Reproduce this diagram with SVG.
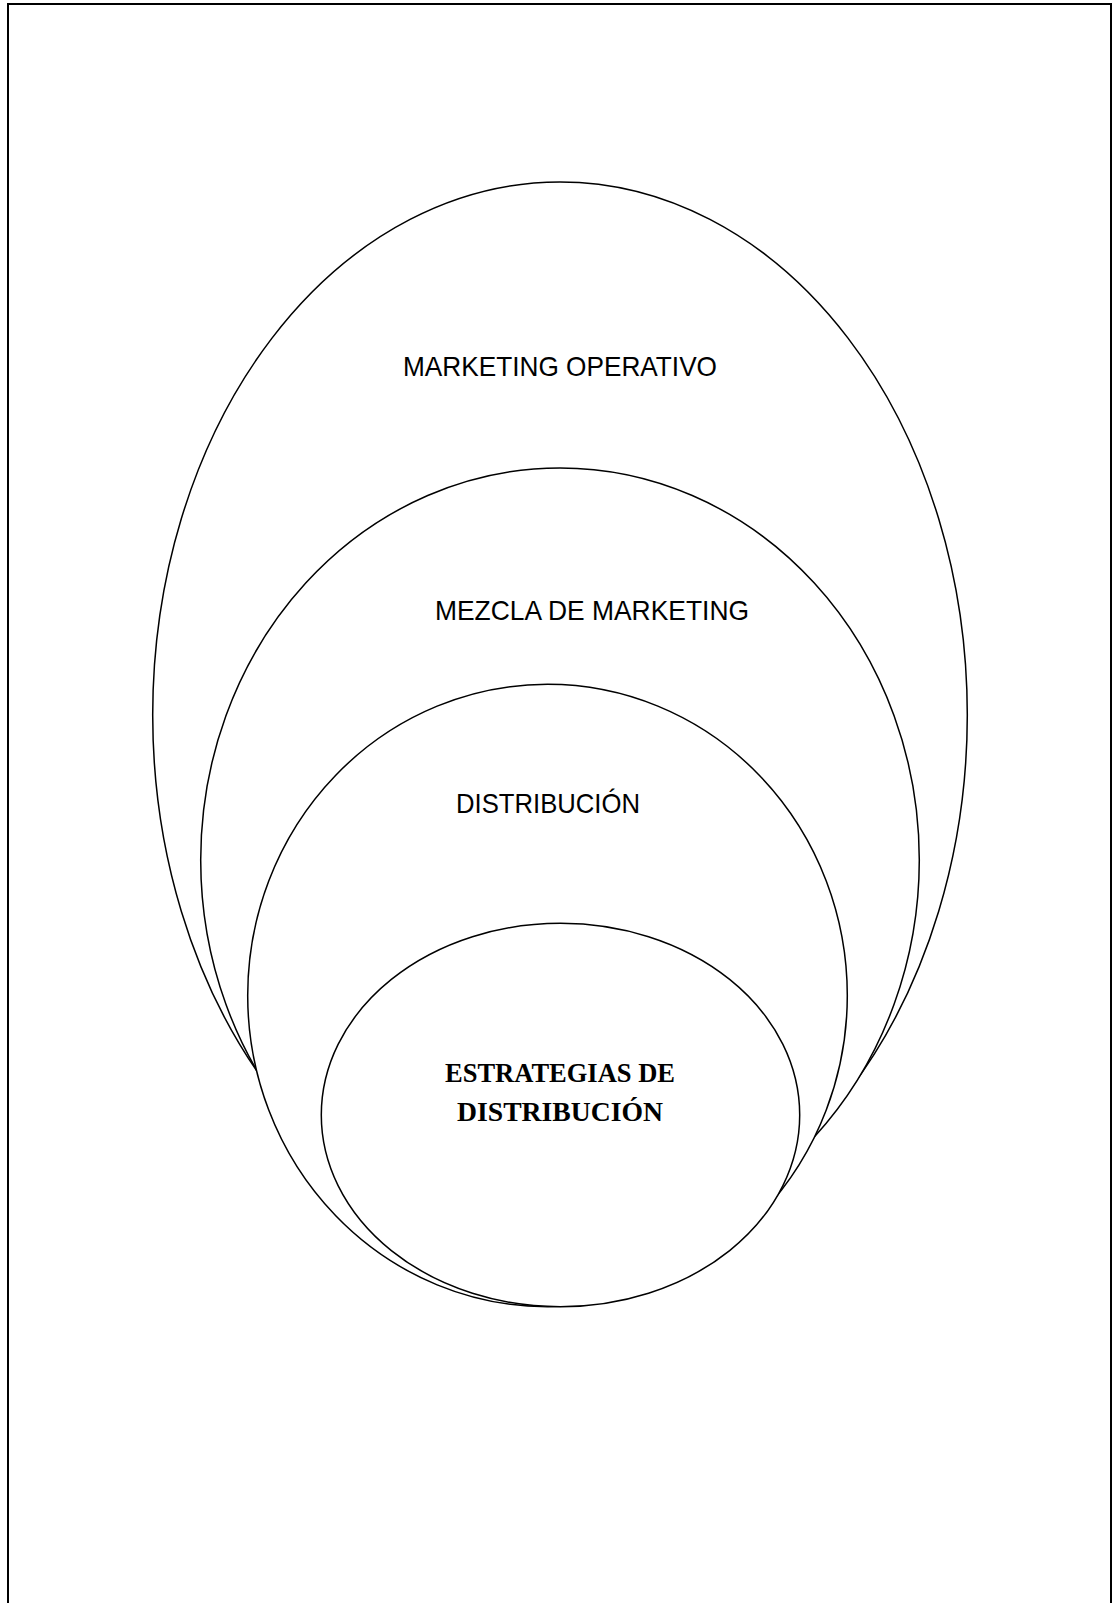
<svg xmlns="http://www.w3.org/2000/svg" width="1116" height="1603" viewBox="0 0 1116 1603">
<style>
.frame{fill:none;stroke:#000;stroke-width:2}
.ell{fill:#fff;stroke:#000;stroke-width:1.5}
.lbl{font-family:"Liberation Sans",Arial,sans-serif;font-size:27.5px;fill:#000;text-anchor:middle}
.bold{font-family:"Liberation Serif","Times New Roman",serif;font-size:27px;font-weight:bold;fill:#000;text-anchor:middle}
</style>
<rect width="1116" height="1603" fill="#fff"/>
<rect class="frame" x="8" y="4" width="1103" height="1640"/>
<g id="marketing-operativo">
<ellipse class="ell" cx="560" cy="715" rx="407.3" ry="533"/>
<text class="lbl" x="560" y="376" textLength="314" lengthAdjust="spacingAndGlyphs">MARKETING OPERATIVO</text>
</g>
<g id="mezcla-de-marketing">
<ellipse class="ell" cx="560" cy="860" rx="359.3" ry="392"/>
<text class="lbl" x="592" y="620" textLength="314" lengthAdjust="spacingAndGlyphs">MEZCLA DE MARKETING</text>
</g>
<g id="distribucion">
<ellipse class="ell" cx="547.5" cy="995.5" rx="299.8" ry="311.2"/>
<text class="lbl" x="548" y="813" textLength="184" lengthAdjust="spacingAndGlyphs">DISTRIBUCIÓN</text>
</g>
<g id="estrategias-de-distribucion">
<ellipse class="ell" cx="560.5" cy="1115" rx="239.2" ry="191.7"/>
<text class="bold" x="560" y="1082" textLength="230" lengthAdjust="spacingAndGlyphs">ESTRATEGIAS DE</text>
<text class="bold" x="560" y="1121" textLength="206" lengthAdjust="spacingAndGlyphs">DISTRIBUCIÓN</text>
</g>
<g id="connectors"/>
</svg>
